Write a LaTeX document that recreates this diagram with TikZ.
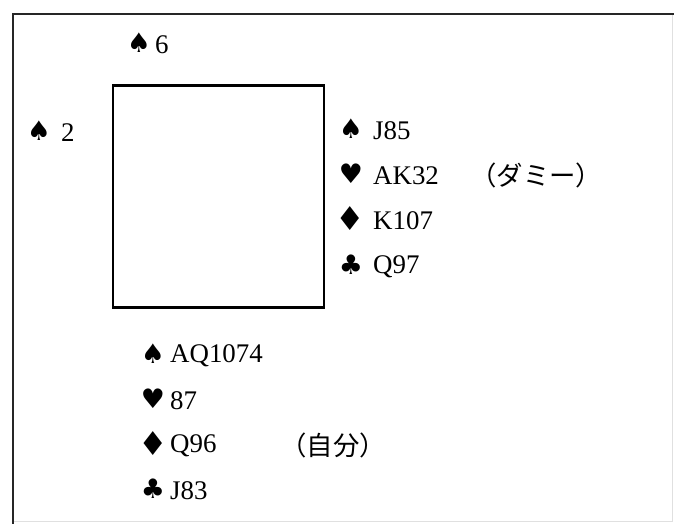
\documentclass[tikz,border=0pt]{standalone}
\usepackage{fontspec}
\setmainfont{Liberation Serif}
\newfontfamily\suitfont{DejaVu Sans}
\newfontfamily\jpfont{Noto Sans CJK JP}
\begin{document}
\begin{tikzpicture}[x=1bp,y=-1bp,
  suit/.style={anchor=center,inner sep=0pt,font=\suitfont\fontsize{27}{27}\selectfont},
  bigsuit/.style={suit,font=\suitfont\fontsize{33}{33}\selectfont},
  cards/.style={anchor=west,inner sep=0pt,font=\fontsize{27}{28}\selectfont},
  note/.style={anchor=west,inner sep=0pt,font=\jpfont\fontsize{26.5}{28}\selectfont},
  frame/.style={line width=2bp,black!85},
  faint/.style={line width=1bp,black!12}]
\useasboundingbox (0,0) rectangle (674,524);
% outer frame: dark left and top edges, faint right and bottom edges
\draw[faint] (13,521) -- (672,521) -- (672,14);
\draw[frame] (13,524) -- (13,14) -- (674,14);
% the table
\node[draw,line width=2.2bp,minimum width=211bp,minimum height=222bp,inner sep=0pt] (table) at (218.5,196.5) {};
% north
\node[suit] (ns) at (139,43) {♠};
\node[cards] (nc) at (155,45) {6};
% west
\node[suit] (ws) at (39,131) {♠};
\node[cards] (wc) at (61,133) {2};
% east (dummy)
\node[suit] (es) at (351,129) {♠};
\node[cards] (ec) at (373,131) {J85};
\node[suit] (eh) at (351,174) {♥};
\node[cards] (ehc) at (373,176) {AK32};
\node[note] (dummy) at (470,175) {（ダミー）};
\node[bigsuit] (ed) at (350,219) {♦};
\node[cards] (edc) at (373,221) {K107};
\node[suit] (ek) at (351,265) {♣};
\node[cards] (ekc) at (373,267) {Q97};
% south (declarer)
\node[suit] (ss) at (153,354) {♠};
\node[cards] (sc) at (170,356) {AQ1074};
\node[suit] (sh) at (153,399) {♥};
\node[cards] (shc) at (170,401) {87};
\node[bigsuit] (sd) at (153,444) {♦};
\node[cards] (sdc) at (170,446) {Q96};
\node[note] (self) at (280,445) {（自分）};
\node[suit] (sk) at (153,489) {♣};
\node[cards] (skc) at (170,491) {J83};
\end{tikzpicture}
\end{document}
